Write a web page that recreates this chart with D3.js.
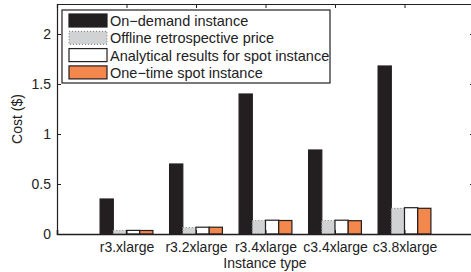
<!DOCTYPE html>
<html>
<head>
<meta charset="utf-8">
<script src="https://cdn.jsdelivr.net/npm/d3@7"></script>
<style>
  body { margin: 0; background: #fff; }
  svg text { font-family: "Liberation Sans", Arial, sans-serif; fill: #222; }
</style>
</head>
<body>
<svg id="chart" width="471" height="272"></svg>
<script>
// data
const categories = ["r3.xlarge", "r3.2xlarge", "r3.4xlarge", "c3.4xlarge", "c3.8xlarge"];
const seriesNames = ["On\u2212demand instance", "Offline retrospective price", "Analytical results for spot instance", "One\u2212time spot instance"];
const onDemand = [0.35, 0.70, 1.40, 0.84, 1.68];
const offline = [0.035, 0.065, 0.135, 0.135, 0.257];
const analytical = [0.036, 0.068, 0.138, 0.138, 0.263];
const oneTime = [0.035, 0.068, 0.135, 0.133, 0.257];
const yTicks = [0, 0.5, 1, 1.5, 2];

const seriesValues = [onDemand, offline, analytical, oneTime];
const fills = ["#231f20", "#d1d2d3", "#ffffff", "#f4874b"];
const strokes = ["#231f20", "#8a8a8a", "#231f20", "#231f20"];
const dashes = [null, "1,2", null, null];

const svg = d3.select("#chart");
const margin = { left: 57, top: 4, right: 474, bottom: 234 };

// x: category positions 1..5, plot spans 0..6
const x = d3.scaleLinear().domain([0, 6]).range([margin.left, margin.right]);
const step = x(1) - x(0);
const sub = d3.scaleBand().domain(d3.range(4)).range([-0.38 * step, 0.38 * step]).padding(0);

const y = d3.scaleLinear().domain([0, 2.3]).range([margin.bottom, margin.top]);

// bars
const g = svg.append("g");
seriesValues.forEach((vals, s) => {
  g.selectAll(".bar" + s)
    .data(vals)
    .enter()
    .append("rect")
      .attr("x", (d, i) => x(i + 1) + sub(s))
      .attr("y", d => y(d))
      .attr("width", sub.bandwidth())
      .attr("height", d => y(0) - y(d))
      .attr("fill", fills[s])
      .attr("stroke", strokes[s])
      .attr("stroke-width", 1.2)
      .attr("stroke-dasharray", dashes[s]);
});

// axes box, inward ticks (matlab style)
svg.append("g")
  .attr("transform", "translate(0," + y(0) + ")")
  .call(d3.axisBottom(x).tickValues(d3.range(1, 6)).tickSize(-4).tickPadding(8)
    .tickFormat(i => categories[i - 1]))
  .call(a => a.selectAll("text").attr("font-size", 14))
  .call(a => a.select(".domain").attr("stroke-width", 1.6));

svg.append("g")
  .attr("transform", "translate(0," + y(2.3) + ")")
  .call(d3.axisTop(x).tickValues(d3.range(1, 6)).tickSize(-4).tickFormat(""))
  .call(a => a.select(".domain").attr("stroke-width", 1.2));

svg.append("g")
  .attr("transform", "translate(" + margin.left + ",0)")
  .call(d3.axisLeft(y).tickValues(yTicks).tickSize(-4).tickPadding(6).tickFormat(d3.format("")))
  .call(a => a.selectAll("text").attr("font-size", 14))
  .call(a => a.select(".domain").attr("stroke-width", 1.2));

svg.append("g")
  .attr("transform", "translate(" + margin.right + ",0)")
  .call(d3.axisRight(y).tickValues(yTicks).tickSize(-4).tickFormat(""));

svg.selectAll(".domain, .tick line").attr("stroke", "#231f20");

// axis titles
svg.append("text")
  .attr("x", 265)
  .attr("y", 268)
  .attr("text-anchor", "middle")
  .attr("font-size", 14)
  .text("Instance type");

svg.append("text")
  .attr("transform", "translate(22," + y(1.15) + ") rotate(-90)")
  .attr("text-anchor", "middle")
  .attr("font-size", 14)
  .text("Cost ($)");

// legend
const lg = svg.append("g").attr("transform", "translate(62,10)");
lg.append("rect")
  .attr("width", 268).attr("height", 73)
  .attr("fill", "#fff").attr("stroke", "#231f20").attr("stroke-width", 1.2);
seriesNames.forEach((name, s) => {
  const row = lg.append("g").attr("transform", "translate(7," + (4 + s * 17.3) + ")");
  row.append("rect")
    .attr("width", 38).attr("height", 13)
    .attr("fill", fills[s]).attr("stroke", strokes[s]).attr("stroke-width", 1.2)
    .attr("stroke-dasharray", dashes[s]);
  row.append("text")
    .attr("x", 41).attr("y", 12)
    .attr("font-size", 14.5)
    .text(name);
});
</script>
</body>
</html>
